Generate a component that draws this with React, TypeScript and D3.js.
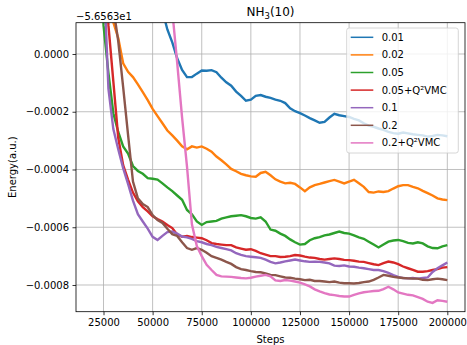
import React, { useEffect, useRef } from 'react';
import * as d3 from 'd3';

// energies are offsets from -56.563, stored in units of 1e-4
const steps = d3.range(20000, 200001, 2500);
const xTicks = [25000, 50000, 75000, 100000, 125000, 150000, 175000, 200000];
const yTicks = [0, -2, -4, -6, -8];

const s001 = [
  20, 15, 12, 10, 8.5, 7.5, 6.5, 5.8, 5.2, 4.6,
  4.0, 3.4, 2.8, 2.2, 1.5, 0.85, 0.40, -0.15, -0.55, -0.80,
  -0.80, -0.68, -0.57, -0.58, -0.56, -0.63, -0.82, -0.98, -1.10, -1.30,
  -1.45, -1.62, -1.58, -1.45, -1.42, -1.48, -1.52, -1.58, -1.62, -1.70,
  -1.88, -1.98, -2.05, -2.13, -2.22, -2.30, -2.38, -2.35, -2.20, -2.07,
  -2.12, -2.15, -2.18, -2.25, -2.30, -2.40, -2.48, -2.52, -2.58, -2.63,
  -2.70, -2.74, -2.76, -2.72, -2.75, -2.78, -2.80, -2.82, -2.86, -2.84,
  -2.80, -2.82, -2.85,
];
const s002 = [
  20, 16, 12, 6, 1.1, 0.55, -0.32, -0.62, -0.80, -1.05,
  -1.32, -1.60, -1.90, -2.15, -2.40, -2.65, -2.82, -3.00, -3.20, -3.30,
  -3.20, -3.24, -3.20, -3.28, -3.38, -3.55, -3.68, -3.82, -3.98, -4.06,
  -4.15, -4.20, -4.24, -4.25, -4.12, -4.08, -4.20, -4.34, -4.42, -4.48,
  -4.46, -4.50, -4.62, -4.75, -4.62, -4.54, -4.50, -4.45, -4.40, -4.36,
  -4.42, -4.48, -4.42, -4.36, -4.48, -4.60, -4.78, -4.80, -4.76, -4.78,
  -4.75, -4.66, -4.58, -4.54, -4.54, -4.60, -4.65, -4.74, -4.82, -4.90,
  -5.00, -5.04, -5.06,
];
const s005 = [
  20, 8, 1.0, -0.65, -2.05, -2.70, -3.20, -3.45, -3.88, -4.05,
  -4.15, -4.30, -4.32, -4.35, -4.48, -4.62, -4.75, -4.90, -5.05, -5.40,
  -5.55, -5.80, -5.92, -5.82, -5.80, -5.78, -5.70, -5.66, -5.62, -5.60,
  -5.58, -5.62, -5.68, -5.70, -5.66, -5.80, -6.08, -6.12, -6.22, -6.30,
  -6.42, -6.52, -6.60, -6.58, -6.45, -6.38, -6.34, -6.28, -6.25, -6.20,
  -6.15, -6.20, -6.22, -6.28, -6.35, -6.40, -6.50, -6.60, -6.70, -6.60,
  -6.50, -6.46, -6.44, -6.48, -6.54, -6.56, -6.52, -6.56, -6.66, -6.72,
  -6.73, -6.66, -6.62,
];
const s005q = [
  20, 14, 8, 1.0, -0.95, -2.9, -3.85, -4.35, -4.80, -5.10,
  -5.30, -5.45, -5.62, -5.72, -5.80, -5.92, -6.03, -6.25, -6.33, -6.30,
  -6.34, -6.36, -6.38, -6.45, -6.55, -6.58, -6.60, -6.62, -6.62, -6.70,
  -6.74, -6.78, -6.76, -6.82, -6.90, -6.95, -7.00, -7.00, -7.03, -7.02,
  -7.00, -6.96, -6.98, -7.02, -7.05, -7.06, -7.10, -7.12, -7.10, -7.08,
  -7.10, -7.13, -7.14, -7.16, -7.19, -7.20, -7.24, -7.28, -7.31, -7.24,
  -7.19, -7.22, -7.28, -7.36, -7.42, -7.48, -7.54, -7.54, -7.52, -7.48,
  -7.45, -7.40, -7.38,
];
const s01 = [
  20, 12, 3.0, -1.2, -2.6, -3.30, -3.95, -4.50, -5.08, -5.55,
  -5.80, -6.05, -6.33, -6.44, -6.30, -6.17, -6.15, -6.22, -6.32, -6.35,
  -6.40, -6.48, -6.52, -6.58, -6.62, -6.68, -6.72, -6.76, -6.80, -6.90,
  -6.96, -7.00, -7.02, -7.04, -7.06, -7.12, -7.20, -7.25, -7.22, -7.18,
  -7.15, -7.12, -7.15, -7.18, -7.20, -7.19, -7.20, -7.22, -7.25, -7.33,
  -7.34, -7.32, -7.36, -7.37, -7.40, -7.42, -7.45, -7.48, -7.48, -7.52,
  -7.58, -7.66, -7.72, -7.76, -7.77, -7.76, -7.78, -7.76, -7.74, -7.55,
  -7.42, -7.32, -7.22,
];
const s02 = [
  20, 16, 12, 8, 1.6, 0.45, -1.15, -2.80, -4.42, -5.00,
  -5.20, -5.30, -5.58, -5.75, -5.85, -6.05, -6.24, -6.30, -6.52, -6.72,
  -6.78, -6.72, -6.78, -6.88, -7.00, -7.06, -7.12, -7.20, -7.27, -7.38,
  -7.45, -7.48, -7.52, -7.55, -7.56, -7.60, -7.65, -7.66, -7.70, -7.74,
  -7.75, -7.78, -7.80, -7.83, -7.82, -7.86, -7.86, -7.88, -7.90, -7.88,
  -7.92, -7.94, -7.94, -7.95, -7.93, -7.90, -7.88, -7.82, -7.74, -7.65,
  -7.68, -7.72, -7.74, -7.76, -7.77, -7.78, -7.78, -7.82, -7.83, -7.80,
  -7.78, -7.80, -7.83,
];
const s02q = [
  40, 38, 36, 34, 32, 30, 27, 24, 21, 18,
  15, 12.5, 10, 8, 5.5, 3.4, 1.5, -0.3, -2.2, -3.9,
  -5.9, -6.65, -7.0, -7.30, -7.48, -7.65, -7.70, -7.71, -7.72, -7.74,
  -7.76, -7.77, -7.75, -7.71, -7.68, -7.65, -7.70, -7.84, -7.86, -7.83,
  -7.85, -7.88, -7.92, -7.98, -8.05, -8.15, -8.22, -8.28, -8.33, -8.35,
  -8.38, -8.40, -8.40, -8.34, -8.29, -8.25, -8.23, -8.21, -8.20, -8.14,
  -8.06, -8.15, -8.26, -8.30, -8.34, -8.36, -8.42, -8.48, -8.58, -8.62,
  -8.53, -8.55, -8.58,
];

const seriesNames = ['0.01', '0.02', '0.05', '0.05+Q\u00b2VMC', '0.1', '0.2', '0.2+Q\u00b2VMC'];
const seriesValues = [s001, s002, s005, s005q, s01, s02, s02q];
const colors = ['#1f77b4', '#ff7f0e', '#2ca02c', '#d62728', '#9467bd', '#8c564b', '#e377c2'];

const FONT = 'DejaVu Sans, sans-serif';

const App = () => {
  const svgRef = useRef<SVGSVGElement>(null);

  useEffect(() => {
    const left = 76, right = 465, top = 22.7, bottom = 311.7;
    const svg = d3.select(svgRef.current);
    svg.selectAll('*').remove();

    const x = d3.scaleLinear().domain([11000, 209000]).range([left, right]);
    const y = d3.scaleLinear().domain([-8.925, 1.084]).range([bottom, top]);

    svg.append('defs').append('clipPath').attr('id', 'plotclip')
      .append('rect').attr('x', left).attr('y', top)
      .attr('width', right - left).attr('height', bottom - top);

    // grid
    const grid = svg.append('g').attr('stroke', '#b0b0b0').attr('stroke-width', 0.8);
    xTicks.forEach((t) => {
      grid.append('line').attr('x1', x(t)).attr('x2', x(t)).attr('y1', top).attr('y2', bottom);
    });
    yTicks.forEach((t) => {
      grid.append('line').attr('x1', left).attr('x2', right).attr('y1', y(t)).attr('y2', y(t));
    });

    // series
    const line = d3.line<number>()
      .x((_, i) => x(steps[i]))
      .y((d) => y(d));
    svg.append('g').attr('clip-path', 'url(#plotclip)')
      .selectAll('path')
      .data(seriesValues)
      .join('path')
      .attr('d', (d) => line(d))
      .attr('fill', 'none')
      .attr('stroke', (_, i) => colors[i])
      .attr('stroke-width', 2.4)
      .attr('stroke-linejoin', 'miter');

    // spines
    svg.append('rect')
      .attr('x', left).attr('y', top)
      .attr('width', right - left).attr('height', bottom - top)
      .attr('fill', 'none').attr('stroke', '#000').attr('stroke-width', 0.8);

    // x axis
    const xAxis = d3.axisBottom(x).tickValues(xTicks).tickSize(3.5).tickSizeOuter(0).tickPadding(3.5)
      .tickFormat((d) => String(d));
    const gx = svg.append('g').attr('transform', `translate(0,${bottom})`).call(xAxis);
    gx.select('.domain').remove();
    gx.selectAll('line').attr('stroke', '#000').attr('stroke-width', 0.8);
    gx.selectAll('text').attr('font-family', FONT).attr('font-size', 10).attr('fill', '#000');

    // y axis
    const yAxis = d3.axisLeft(y).tickValues(yTicks).tickSize(3.5).tickSizeOuter(0).tickPadding(3.5)
      .tickFormat((d) => (Number(d) * 1e-4).toFixed(4).replace('-', '\u2212'));
    const gy = svg.append('g').attr('transform', `translate(${left},0)`).call(yAxis);
    gy.select('.domain').remove();
    gy.selectAll('line').attr('stroke', '#000').attr('stroke-width', 0.8);
    gy.selectAll('text').attr('font-family', FONT).attr('font-size', 10).attr('fill', '#000');

    // offset text
    svg.append('text').attr('x', left).attr('y', 19.5)
      .attr('font-family', FONT).attr('font-size', 10)
      .text('\u22125.6563e1');

    // title
    const title = svg.append('text').attr('x', (left + right) / 2).attr('y', 16)
      .attr('text-anchor', 'middle').attr('font-family', FONT).attr('font-size', 12);
    title.append('tspan').text('NH');
    title.append('tspan').attr('font-size', 8.5).attr('dy', 2.5).text('3');
    title.append('tspan').attr('dy', -2.5).text('(10)');

    // axis labels
    svg.append('text').attr('x', (left + right) / 2).attr('y', 342.5)
      .attr('text-anchor', 'middle').attr('font-family', FONT).attr('font-size', 10)
      .text('Steps');
    svg.append('text').attr('transform', `translate(15.5,${(top + bottom) / 2}) rotate(-90)`)
      .attr('text-anchor', 'middle').attr('font-family', FONT).attr('font-size', 10)
      .text('Energy(a.u.)');

    // legend
    const lg = svg.append('g');
    lg.append('rect').attr('x', 346.7).attr('y', 28).attr('width', 111.6).attr('height', 125)
      .attr('rx', 2.5).attr('fill', '#fff').attr('fill-opacity', 0.8)
      .attr('stroke', '#cccccc').attr('stroke-width', 0.8);
    seriesNames.forEach((name, i) => {
      const cy = 37.3 + i * 17.6;
      lg.append('line').attr('x1', 350.7).attr('x2', 373.3).attr('y1', cy).attr('y2', cy)
        .attr('stroke', colors[i]).attr('stroke-width', 1.5);
      lg.append('text').attr('x', 381.7).attr('y', cy).attr('dy', '0.35em')
        .attr('font-family', FONT).attr('font-size', 10).text(name);
    });
  }, []);

  return (
    <svg ref={svgRef} width={467} height={345}
      style={{ position: 'absolute', left: 0, top: 0, background: '#fff' }} />
  );
};

export default App;
